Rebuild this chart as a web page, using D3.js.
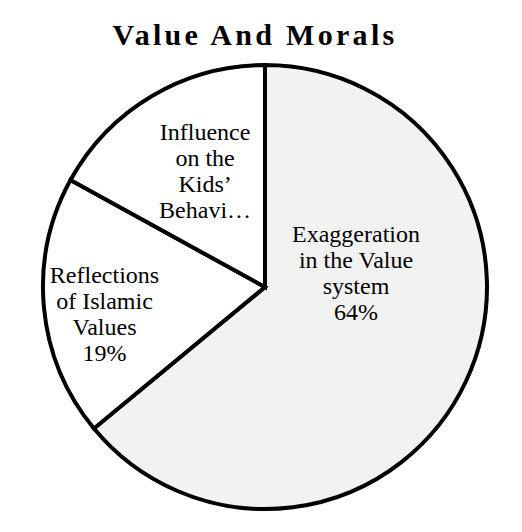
<!DOCTYPE html>
<html>
<head>
<meta charset="utf-8">
<script src="https://cdn.jsdelivr.net/npm/d3@7"></script>
<style>
  html, body { margin: 0; padding: 0; background: #fff; }
  svg { display: block; }
</style>
</head>
<body>
<svg id="chart" width="522" height="532"></svg>
<script>
// ---- data ----
const categories = ["Exaggeration in the Value system", "Reflections of Islamic Values", "Influence on the Kids’ Behavior"];
const values = [64, 19, 17];
const labelLines = [
  ["Exaggeration", "in the Value", "system", "64%"],
  ["Reflections", "of Islamic", "Values", "19%"],
  ["Influence", "on the", "Kids’", "Behavi…"]
];
const fills = ["#f2f2f2", "#ffffff", "#ffffff"];
const title = "Value And Morals";

// ---- layout ----
const W = 522, H = 532;
const cx = 265, cy = 287, R = 222;
// label anchor (x centre, first baseline) in radius units relative to centre
const labelPos = [[0.41, -0.203], [-0.723, -0.018], [-0.27, -0.662]];
const lineH = 26;

const svg = d3.select("#chart");

svg.append("text")
  .attr("x", 255)
  .attr("y", 45)
  .attr("text-anchor", "middle")
  .attr("font-family", "'Liberation Serif', 'Times New Roman', serif")
  .attr("font-weight", "bold")
  .attr("font-size", 30)
  .attr("letter-spacing", 3.3)
  .attr("fill", "#000")
  .text(title);

const data = categories.map((c, i) => ({ name: c, value: values[i], i }));
const pie = d3.pie().value(d => d.value).sort(null);
const arc = d3.arc().innerRadius(0).outerRadius(R);

const g = svg.append("g").attr("transform", `translate(${cx},${cy})`);

g.selectAll("path.slice")
  .data(pie(data))
  .join("path")
  .attr("class", "slice")
  .attr("d", arc)
  .attr("fill", d => fills[d.data.i])
  .attr("stroke", "#000")
  .attr("stroke-width", 4)
  .attr("stroke-linejoin", "miter");

const labels = g.selectAll("text.lbl")
  .data(pie(data))
  .join("text")
  .attr("class", "lbl")
  .attr("text-anchor", "middle")
  .attr("font-family", "'Liberation Serif', 'Times New Roman', serif")
  .attr("font-size", 24)
  .attr("fill", "#000");

labels.each(function (d) {
  const [lx, ly] = labelPos[d.data.i];
  const t = d3.select(this);
  labelLines[d.data.i].forEach((ln, k) => {
    t.append("tspan")
      .attr("x", lx * R)
      .attr("y", ly * R + k * lineH)
      .text(ln);
  });
});
</script>
</body>
</html>
